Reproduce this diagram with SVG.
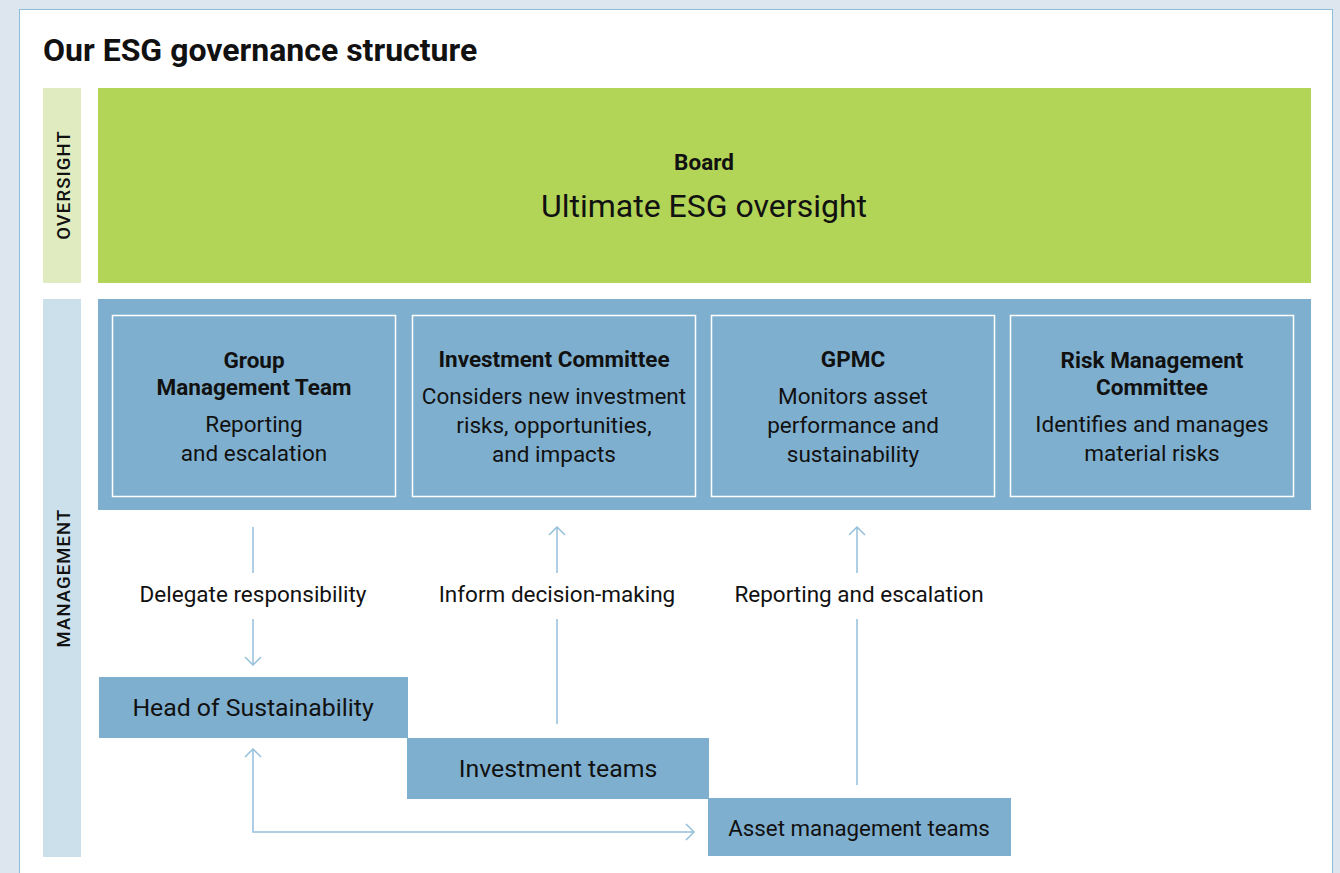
<svg xmlns="http://www.w3.org/2000/svg" width="1340" height="873" viewBox="0 0 1340 873">
<defs>
<style>
text{font-family:Roboto,"Liberation Sans",sans-serif;fill:#111;}
.b{font-weight:bold;}
.t{font-size:22.5px;text-anchor:middle;}
.side{font-size:18.5px;font-weight:500;text-anchor:middle;letter-spacing:1.1px;}
.inner{fill:none;stroke:#ffffff;stroke-width:1.5;}
.blue{fill:#7fafce;}
.conn{fill:none;stroke:#93bfdb;stroke-width:1.5;}
</style>
<marker id="ah" viewBox="0 0 20 20" refX="10" refY="10" markerWidth="20" markerHeight="20" markerUnits="userSpaceOnUse" orient="auto-start-reverse">
<path d="M2 2 L10 10 L2 18" fill="none" stroke="#93bfdb" stroke-width="1.5"/>
</marker>
</defs>
<rect x="0" y="0" width="1340" height="873" fill="#dde6ef"/>
<rect x="19.5" y="9.5" width="1313" height="870" fill="#ffffff" stroke="#8fbcd8" stroke-width="1"/>
<text x="43" y="61" class="b" font-size="32">Our ESG governance structure</text>

<g id="oversight-label">
<rect x="43" y="88" width="38" height="195" fill="#e0ecbf"/>
<text class="side" transform="translate(70,185) rotate(-90)">OVERSIGHT</text>
</g>
<g id="board">
<rect x="98" y="88" width="1213" height="195" fill="#b2d457"/>
<text x="704" y="170" class="t b">Board</text>
<text x="704" y="217" font-size="32" text-anchor="middle">Ultimate ESG oversight</text>
</g>

<g id="management-label">
<rect x="43" y="299" width="38" height="558" fill="#cce0eb"/>
<text class="side" transform="translate(70,578) rotate(-90)">MANAGEMENT</text>
</g>
<g id="management">
<rect x="98" y="299" width="1213" height="211" class="blue"/>
</g>
<g id="gmt">
<rect x="112.5" y="315.5" width="283" height="181" class="inner"/>
<text x="254" y="368" class="t b">Group</text>
<text x="254" y="395" class="t b">Management Team</text>
<text x="254" y="432" class="t">Reporting</text>
<text x="254" y="461" class="t">and escalation</text>
</g>
<g id="ic">
<rect x="412.5" y="315.5" width="283" height="181" class="inner"/>
<text x="554" y="367" class="t b">Investment Committee</text>
<text x="554" y="404" class="t">Considers new investment</text>
<text x="554" y="433" class="t">risks, opportunities,</text>
<text x="554" y="462" class="t">and impacts</text>
</g>
<g id="gpmc">
<rect x="711.5" y="315.5" width="283" height="181" class="inner"/>
<text x="853" y="367" class="t b">GPMC</text>
<text x="853" y="404" class="t">Monitors asset</text>
<text x="853" y="433" class="t">performance and</text>
<text x="853" y="462" class="t">sustainability</text>
</g>
<g id="rmc">
<rect x="1010.5" y="315.5" width="283" height="181" class="inner"/>
<text x="1152" y="368" class="t b">Risk Management</text>
<text x="1152" y="395" class="t b">Committee</text>
<text x="1152" y="432" class="t">Identifies and manages</text>
<text x="1152" y="461" class="t">material risks</text>
</g>

<g id="connectors">
<line x1="253" y1="527" x2="253" y2="573" class="conn"/>
<line x1="253" y1="619" x2="253" y2="665" class="conn" marker-end="url(#ah)"/>
<line x1="557" y1="573" x2="557" y2="527" class="conn" marker-end="url(#ah)"/>
<line x1="557" y1="724" x2="557" y2="619" class="conn"/>
<line x1="857" y1="573" x2="857" y2="527" class="conn" marker-end="url(#ah)"/>
<line x1="857" y1="785" x2="857" y2="619" class="conn"/>
<path d="M253 749 L253 832 L694 832" class="conn" marker-start="url(#ah)" marker-end="url(#ah)"/>
<text x="253" y="602" class="t">Delegate responsibility</text>
<text x="557" y="602" class="t">Inform decision-making</text>
<text x="859" y="602" class="t">Reporting and escalation</text>
</g>

<g id="head-of-sustainability">
<rect x="99" y="677" width="309" height="61" class="blue"/>
<text x="253" y="716" font-size="24.8" text-anchor="middle">Head of Sustainability</text>
</g>
<g id="investment-teams">
<rect x="407" y="738" width="302" height="61" class="blue"/>
<text x="558" y="777" font-size="24.8" text-anchor="middle">Investment teams</text>
</g>
<g id="asset-management-teams">
<rect x="708" y="798" width="303" height="58" class="blue"/>
<text x="859" y="836" font-size="22.3" text-anchor="middle">Asset management teams</text>
</g>
</svg>
